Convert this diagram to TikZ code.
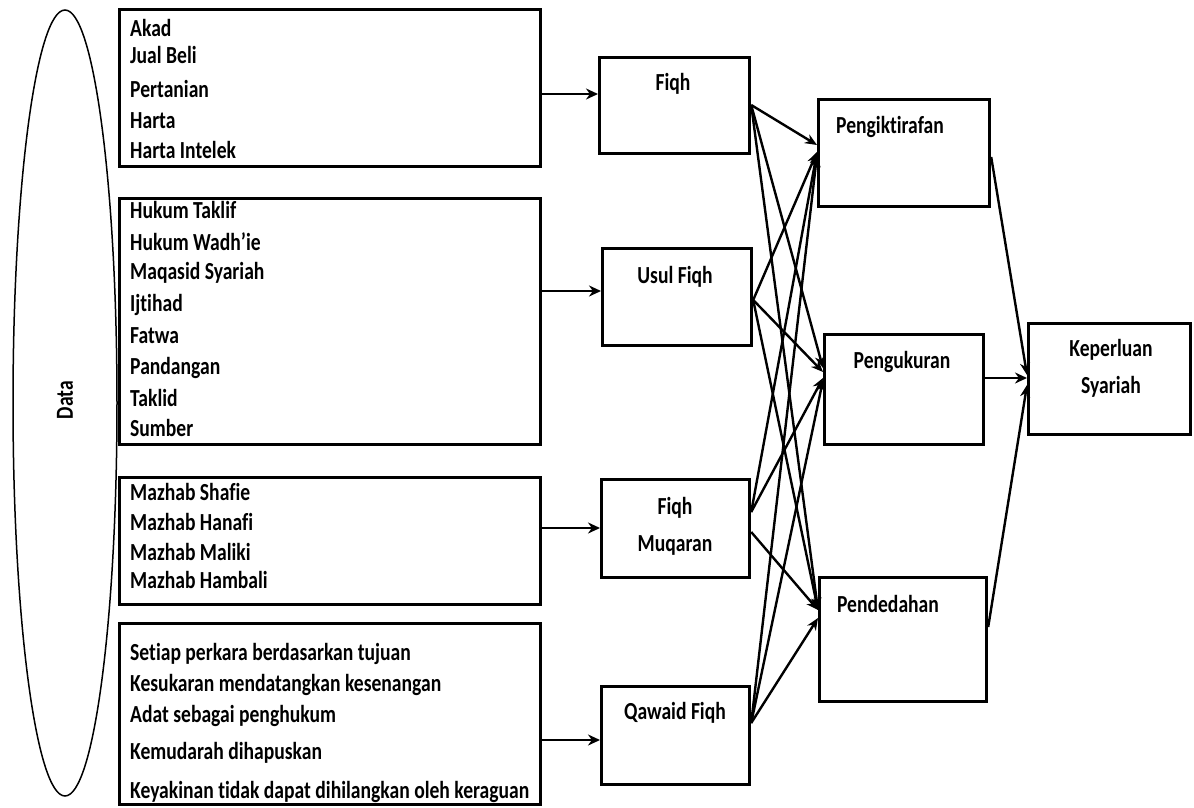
\documentclass[tikz,border=0pt]{standalone}
\usepackage{fontspec}
\setmainfont{Carlito}[Ligatures={NoCommon}, FakeStretch=0.8]
\usetikzlibrary{arrows.meta,shapes.geometric}
\begin{document}
\begin{tikzpicture}[x=1pt,y=-1pt,
  box/.style={draw, line width=3.2pt, inner sep=0pt, anchor=north west},
  txt/.style={font=\bfseries\fontsize{24.5}{28}\selectfont, inner sep=0pt},
  item/.style={txt, anchor=west},
  conn/.style={line width=2.8pt, -{Stealth[length=12pt,width=11pt]}},
  thin/.style={line width=2.4pt, -{Stealth[length=12pt,width=10pt]}}]
\useasboundingbox (0,0) rectangle (1194,808);

% ellipse
\node[draw, ellipse, line width=1.5pt, minimum width=104pt, minimum height=786pt, inner sep=0pt] (dataell) at (65,403) {};
\node[txt, rotate=90] (data) at (65,400) {Data};

% left boxes
\node[box, minimum width=421pt, minimum height=157pt] (b1) at (118,8) {};
\node[box, minimum width=421pt, minimum height=246pt] (b2) at (118,197) {};
\node[box, minimum width=421pt, minimum height=127pt] (b3) at (118,476) {};
\node[box, minimum width=421pt, minimum height=181pt] (b4) at (118,622) {};

\foreach \y/\t [count=\i] in {28/Akad, 55/Jual Beli, 89/Pertanian, 121/Harta, 150/Harta Intelek}
  \node[item] (la-\i) at (130,\y) {\t};
\foreach \y/\t [count=\i] in {210/Hukum Taklif, 242/Hukum Wadh’ie, 273/Maqasid Syariah, 305/Ijtihad, 336/Fatwa, 368/Pandangan, 398/Taklid, 428/Sumber}
  \node[item] (lb-\i) at (130,\y) {\t};
\foreach \y/\t [count=\i] in {492/Mazhab Shafie, 522/Mazhab Hanafi, 552/Mazhab Maliki, 580/Mazhab Hambali}
  \node[item] (lc-\i) at (130,\y) {\t};
\foreach \y/\t [count=\i] in {654/Setiap perkara berdasarkan tujuan, 685/Kesukaran mendatangkan kesenangan, 716/Adat sebagai penghukum, 753/Kemudarah dihapuskan, 792/Keyakinan tidak dapat dihilangkan oleh keraguan}
  \node[item] (ld-\i) at (130,\y) {\t};

% middle boxes
\node[box, minimum width=150pt, minimum height=96pt] (fiqh) at (598,56) {};
\node[box, minimum width=149pt, minimum height=97pt] (usul) at (601,247) {};
\node[box, minimum width=148pt, minimum height=98pt] (muq) at (600,478) {};
\node[box, minimum width=148pt, minimum height=98pt] (qaw) at (600,685) {};
\node[txt] (t-fiqh) at (673,84) {Fiqh};
\node[txt] (t-usul) at (675,277) {Usul Fiqh};
\node[txt] (t-muq1) at (675,508) {Fiqh};
\node[txt] (t-muq2) at (675,545) {Muqaran};
\node[txt] (t-qaw) at (675,713) {Qawaid Fiqh};

% right boxes
\node[box, minimum width=171pt, minimum height=107pt] (peng1) at (817,98) {};
\node[box, minimum width=159pt, minimum height=110pt] (peng2) at (823,333) {};
\node[box, minimum width=167pt, minimum height=124pt] (pend) at (818,576) {};
\node[box, minimum width=162pt, minimum height=111pt] (kep) at (1027,322) {};
\node[txt] (t-p1) at (890,127) {Pengiktirafan};
\node[txt] (t-p2) at (902,362) {Pengukuran};
\node[txt] (t-p3) at (888,604) {Pendedahan};
\node[txt] (t-k1) at (1111,350) {Keperluan};
\node[txt] (t-k2) at (1111,387) {Syariah};

% left -> middle
\draw[conn] (b1.east |- 0,94) -- (fiqh.west |- 0,94);
\draw[conn] (b2.east |- 0,291) -- (usul.west |- 0,291);
\draw[conn] (b3.east |- 0,528) -- (muq.west |- 0,528);
\draw[conn] (b4.east |- 0,740) -- (qaw.west |- 0,740);

% middle -> right
\draw[thin] (fiqh.east |- 0,105) -- (peng1.west |- 0,145);
\draw[thin] (fiqh.east |- 0,105) -- (peng2.west |- 0,368);
\draw[thin] (fiqh.east |- 0,105) -- (pend.west |- 0,610);
\draw[thin] (usul.east |- 0,300) -- (peng1.west |- 0,152);
\draw[thin] (usul.east |- 0,300) -- (peng2.west |- 0,372);
\draw[thin] (usul.east |- 0,300) -- (pend.west |- 0,610);
\draw[thin] (muq.east |- 0,512) -- (peng1.west |- 0,152);
\draw[thin] (muq.east |- 0,512) -- (peng2.west |- 0,378);
\draw[thin] (muq.east |- 0,532) -- (pend.west |- 0,610);
\draw[thin] (qaw.east |- 0,723) -- (peng1.west |- 0,155);
\draw[thin] (qaw.east |- 0,723) -- (peng2.west |- 0,380);
\draw[thin] (qaw.east |- 0,723) -- (pend.west |- 0,618);

% right -> keperluan
\draw[thin] (peng1.east |- 0,157) -- (kep.west |- 0,375);
\draw[conn] (peng2.east |- 0,378) -- (kep.west |- 0,378);
\draw[thin] (pend.east |- 0,627) -- (kep.west |- 0,385);
\end{tikzpicture}
\end{document}
